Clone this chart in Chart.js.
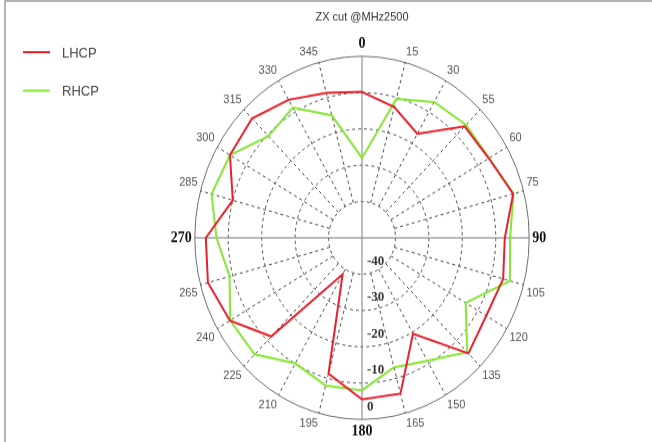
<!DOCTYPE html>
<html>
<head>
<meta charset="utf-8">
<script src="https://cdn.jsdelivr.net/npm/chart.js@4.4.1/dist/chart.umd.min.js"></script>
<style>
  body { margin: 0; background: #fff; }
  #frame {
    position: absolute; left: 4px; top: 0; width: 648px; height: 442px;
    border-left: 2px solid #b4b4b4; border-top: 2px solid #b4b4b4;
    box-sizing: border-box; pointer-events: none;
  }
  /* bilden är lite utdragen på höjden, så canvasen sträcks likadant */
  #wrap {
    position: absolute; left: 0; top: 0; width: 652px; height: 407px;
    transform: scaleY(1.086); transform-origin: 0 0;
  }
</style>
</head>
<body>
<div id="wrap"><canvas id="polarChart"></canvas></div>
<div id="frame"></div>
<script>
"use strict";

// vinklar (som de står i bilden)
const angleLabels = ["0", "15", "30", "55", "60", "75", "90", "105", "120", "135", "150", "165",
  "180", "195", "210", "225", "240", "265", "270", "285", "300", "315", "330", "345"];

// nivåer i dB, avlästa var 15:e grad
const lhcp = [-9.8, -12.7, -16.9, -6.6, -6.2, -3.2, -7.3, -6.3, -7.1, -5.0, -19.5, -5.6,
  -5.5, -11.3, -38.4, -11.6, -4.4, -2.3, -3.3, -10.0, -4.4, -3.5, -6.1, -8.7];
const rhcp = [-28.0, -10.4, -6.8, -6.0, -6.1, -3.1, -5.7, -4.2, -14.2, -5.5, -10.9, -13.1,
  -8.0, -7.9, -10.1, -4.6, -4.5, -9.0, -6.5, -3.4, -4.4, -10.4, -8.6, -15.1];

// skalan
const tickValues = [-40, -30, -20, -10, 0];
const tickLabels = ["-40", "-30", "-20", "-10", "0"];

const seriesNames = ["LHCP", "RHCP"];
const seriesColors = ["#e8202c", "#86e634"];

/* streckade ekrar, börjar vid -40-ringen så att mitten inte blir en klump */
const spokes = {
  id: "spokes",
  beforeDatasetsDraw(chart) {
    const ctx = chart.ctx;
    const r = chart.scales.r;
    const inner = r.getDistanceFromCenterForValue(tickValues[0]);
    const outer = r.getDistanceFromCenterForValue(r.max);
    ctx.save();
    ctx.strokeStyle = "#4a4a4a";
    ctx.lineWidth = 1;
    ctx.setLineDash([3, 3]);
    angleLabels.forEach((_, i) => {
      if (i % 6 === 0) return;
      const a = r.getPointPosition(i, inner);
      const b = r.getPointPosition(i, outer);
      ctx.beginPath();
      ctx.moveTo(a.x, a.y);
      ctx.lineTo(b.x, b.y);
      ctx.stroke();
    });
    ctx.restore();
  },
};

/* egen plugin: titel, legend och skaltext längs 180-linjen */
const extras = {
  id: "extras",
  afterDraw(chart) {
    const ctx = chart.ctx;
    const r = chart.scales.r;
    ctx.save();

    // titel
    ctx.fillStyle = "#333";
    ctx.font = "11px 'Liberation Sans'";
    ctx.textAlign = "center";
    ctx.textBaseline = "middle";
    ctx.fillText("ZX cut @MHz2500", r.xCenter, 15.5);

    // legend
    ctx.textAlign = "left";
    ctx.font = "13px 'Liberation Sans'";
    seriesNames.forEach((name, i) => {
      const y = 48 + i * 35.5;
      ctx.strokeStyle = seriesColors[i];
      ctx.lineWidth = 2;
      ctx.beginPath();
      ctx.moveTo(23, y);
      ctx.lineTo(50, y);
      ctx.stroke();
      ctx.fillStyle = "#444";
      ctx.fillText(name, 62, y + 1);
    });

    // dB-text nedåt från centrum
    ctx.font = "bold 13px 'Liberation Serif'";
    ctx.fillStyle = "#333";
    tickValues.forEach((v, i) => {
      const d = r.getDistanceFromCenterForValue(v);
      ctx.fillText(tickLabels[i], r.xCenter + 5, r.yCenter + d - 12);
    });

    ctx.restore();
  },
};

const config = {
  type: "radar",
  data: {
    labels: angleLabels,
    datasets: [
      {
        label: seriesNames[0],
        data: lhcp,
        borderColor: seriesColors[0],
        borderWidth: 2,
        pointRadius: 0,
        fill: false,
      },
      {
        label: seriesNames[1],
        data: rhcp,
        borderColor: seriesColors[1],
        borderWidth: 2,
        pointRadius: 0,
        fill: false,
      },
    ],
  },
  options: {
    responsive: true,
    maintainAspectRatio: false,
    animation: false,
    layout: { padding: { left: 150, right: 77, top: 33, bottom: -2 } },
    plugins: {
      legend: { display: false },
      tooltip: { enabled: false },
    },
    scales: {
      r: {
        min: -50,
        max: 0,
        ticks: { stepSize: 10, display: false },
        grid: {
          circular: true,
          // ingen ring i själva centrum
          color: (c) => (c.index === 0 ? "rgba(0,0,0,0)" : c.index === 5 ? "#6e6e6e" : "#4a4a4a"),
          lineWidth: 1,
        },
        border: {
          dash: (c) => (c.index === 5 ? [] : [3, 3]),
        },
        angleLines: {
          // bara huvudaxlarna här, resten ritas av "spokes"
          color: (c) => (c.index % 6 === 0 ? "#7a7a7a" : "rgba(0,0,0,0)"),
          lineWidth: 1,
        },
        pointLabels: {
          padding: 3,
          color: (c) => (c.index % 6 === 0 ? "#111" : "#555"),
          font: (c) =>
            c.index % 6 === 0
              ? { family: "'Liberation Serif'", size: 14, weight: "bold" }
              : { family: "'Liberation Sans'", size: 11 },
        },
      },
    },
  },
  plugins: [spokes, extras],
};

new Chart(document.getElementById("polarChart"), config);
</script>
</body>
</html>
